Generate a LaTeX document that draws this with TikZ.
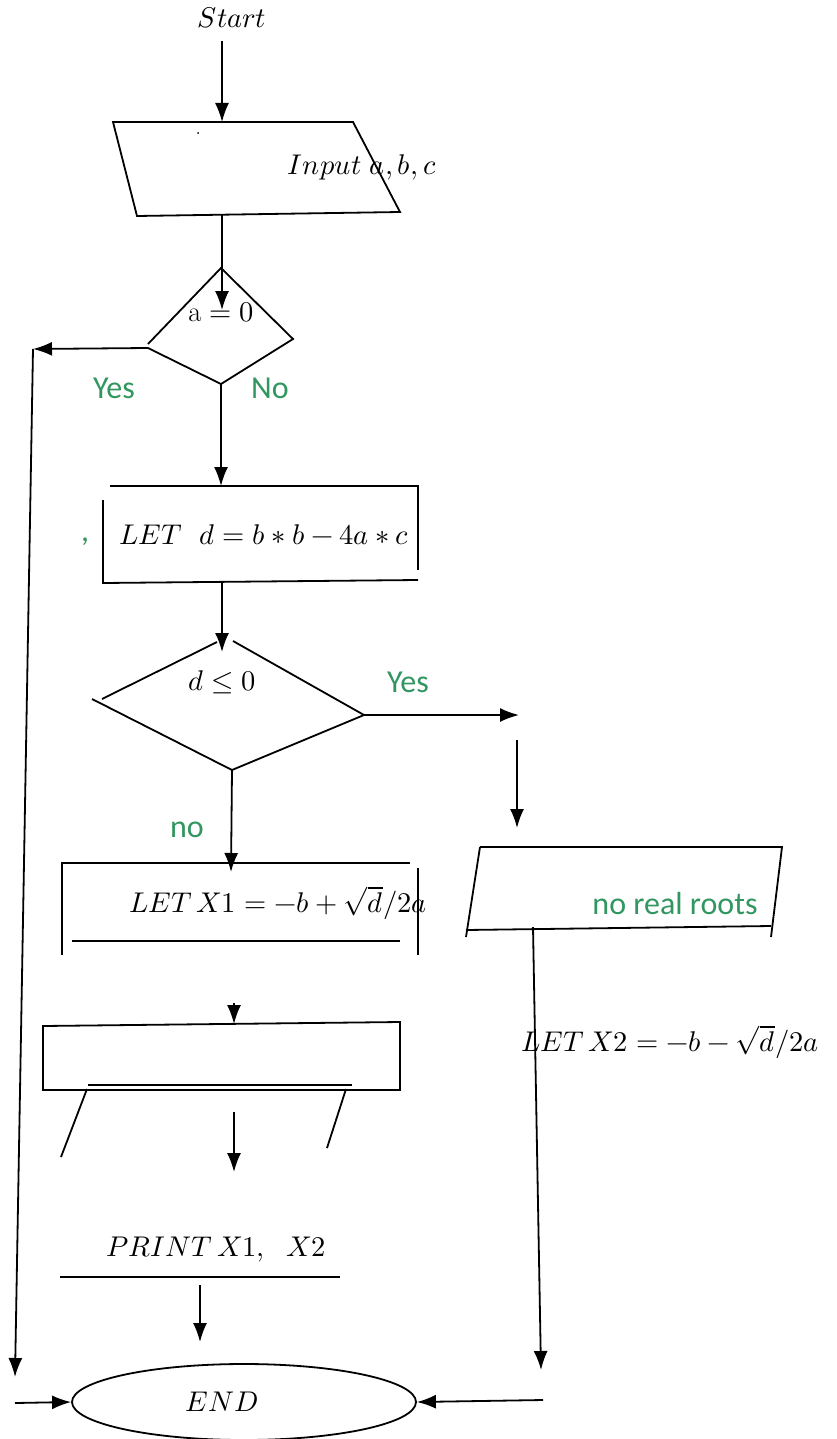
\documentclass[tikz,border=0pt]{standalone}
\usepackage{fontspec}
\usepackage{unicode-math}
\setmathfont{Latin Modern Math}
\newfontfamily\lblfont{Carlito}
\usetikzlibrary{arrows.meta,shapes.geometric}
\definecolor{lblgreen}{RGB}{50,150,96}
\tikzset{
  lbl/.style={text=lblgreen, font=\lblfont\fontsize{32}{36}\selectfont, inner sep=0pt},
  eq/.style={font=\fontsize{28.5}{32}\selectfont, inner sep=0pt},
}
\begin{document}
\begin{tikzpicture}[x=1pt, y=-1pt, >={Latex[length=19pt,width=14pt]}, line width=1.8pt]
        \useasboundingbox (0,0) rectangle (837,1439);
        % start, input
        \node[eq] (start) at (232,18) {\(Start\)};
        \coordinate (inTop) at (222,122);
        \draw (113,122) -- (353,122) -- (400,212) -- (137,216) -- cycle;
        \fill (198,133) circle (1pt);
        \node[eq] (input) at (362,167) {\(Input\ a, b, c\)};
        \draw[->] (start.south -| inTop) ++(0,12) -- (inTop);
        % a = 0
        \coordinate (inBot) at (222,215);
        \coordinate (aL) at (148,348);
        \coordinate (aB) at (221,384);
        \draw (148,344) -- (221,268) -- (293,339) -- (aB) -- (aL);
        \node[eq] (azero) at (221,312) {\(\mathrm{a}=0\)};
        \draw[->] (inBot) -- (222,310);
        \coordinate (leftTop) at (33,349);
        \coordinate (leftBot) at (15,1377);
        \draw[->] (aL) -- (leftTop);
        \draw[->] (leftTop) -- (leftBot);
        \node[lbl] (yes1) at (114,388) {Yes};
        \node[lbl] (no1) at (270,388) {No};
        % LET d
        \coordinate (dTop) at (221,486);
        \draw[->] (aB) -- (dTop);
        \draw (110,486) -- (418,486) -- (418,570);
        \draw (103,500) -- (103,583) -- (418,580);
        \node[lbl] (comma) at (85,542) {,};
        \node[eq] (letd) at (264,535) {\(LET\ \ d=b*b-4a*c\)};
        % d <= 0
        \coordinate (dBot) at (222,581);
        \coordinate (qTop) at (222,652);
        \coordinate (qR) at (364,715);
        \coordinate (qB) at (232,770);
        \draw (102,699) -- (217,642);
        \draw (233,641) -- (qR) -- (qB) -- (92,699);
        \draw[->] (dBot) -- (qTop);
        \node[eq] (dle) at (222,682) {\(d\le 0\)};
        \node[lbl] (yes2) at (408,682) {Yes};
        \coordinate (yesEnd) at (519,715);
        \draw[->] (qR) -- (yesEnd);
        % no real roots
        \coordinate (nrTop) at (517,740);
        \coordinate (nrIn) at (517,828);
        \draw[->] (nrTop) -- (nrIn);
        \draw (480,847) -- (782,847) -- (771,937);
        \draw (480,847) -- (466,937);
        \draw (466,930) -- (771,926);
        \node[lbl] (noreal) at (675,903) {no real roots};
        \coordinate (nrBot) at (533,927);
        \coordinate (rightBot) at (541,1370);
        \draw[->] (nrBot) -- (rightBot);
        \node[eq] (letx2) at (670,1042) {\(LET\,X2=-b-\sqrt{d}/2a\)};
        % LET X1
        \coordinate (xTop) at (231,872);
        \draw[->] (qB) -- (xTop);
        \node[lbl] (no2) at (187,830) {no};
        \draw (62,955) -- (62,863) -- (410,863);
        \draw (418,868) -- (418,955);
        \draw (72,941) -- (400,941);
        \node[eq] (letx1) at (278,903) {\(LET\,X1=-b+\sqrt{d}/2a\)};
        % empty box
        \coordinate (bTop) at (234,1024);
        \draw[->] (234,1003) -- (bTop);
        \draw (43,1026) -- (400,1022) -- (400,1090) -- (43,1090) -- cycle;
        \draw (88,1085) -- (352,1085);
        \draw (87,1089) -- (61,1157);
        \draw (346,1089) -- (327,1148);
        \draw[->] (234,1112) -- (234,1172);
        % print, end
        \node[eq] (print) at (216,1250) {\(PRINT\,X1,\ \ X2\)};
        \draw (60,1277) -- (340,1277);
        \draw[->] (200,1285) -- (200,1342);
        \node[draw, ellipse, minimum width=344pt, minimum height=76pt, inner sep=0pt] (end) at (244,1402) {};
        \node[eq] (endtxt) at (222,1402) {\(END\)};
        \coordinate (endL) at (15,1403);
        \coordinate (endR) at (543,1400);
        \draw[->] (endL) -- (end.west);
        \draw[->] (endR) -- (end.east);
\end{tikzpicture}
\end{document}
